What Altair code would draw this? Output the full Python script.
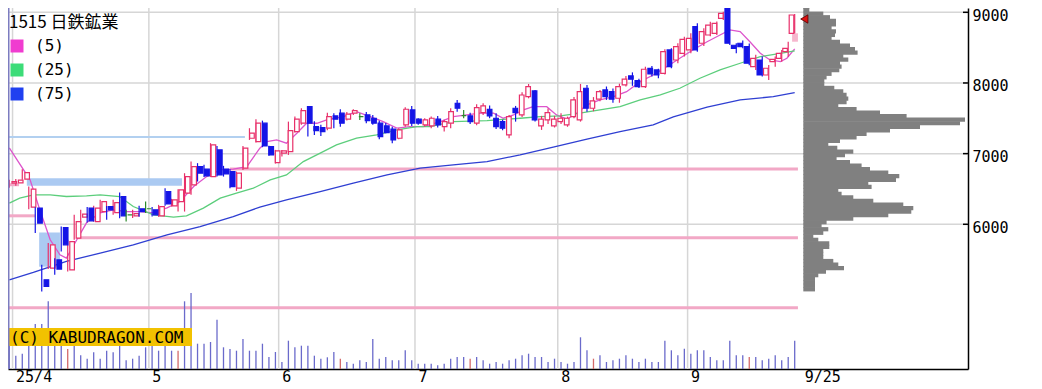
import altair as alt
import pandas as pd

# ---------------- data ----------------
TITLE = "1515 日鉄鉱業"
MA_NAMES = ["(5)", "(25)", "(75)"]
WATERMARK = "(C) KABUDRAGON.COM"

opens = [6582, 6585, 6638, 6243, 6229, 5215, 5380, 5497, 5954, 5356,
         5804, 6101, 6229, 6039, 6180, 6251, 6166, 6393, 6134, 6120,
         6219, 6220, 6205, 6120, 6463, 6261, 6322, 6441, 6558, 6817,
         6780, 6675, 7053, 6780, 6746, 6511, 6794, 7218, 7170, 7431,
         7100, 6873, 7006, 7029, 7312, 7431, 7665, 7382, 7368, 7360,
         7534, 7572, 7487, 7572, 7524, 7548, 7501, 7431, 7392, 7346,
         7218, 7406, 7618, 7487, 7406, 7392, 7487, 7382, 7431, 7713,
         7538, 7534, 7431, 7581, 7628, 7501, 7453, 7265, 7642, 7548,
         7807, 7887, 7392, 7477, 7392, 7453, 7406, 7524, 7477, 7925,
         7642, 7770, 7901, 7877, 7784, 7972, 8100, 8033, 7948, 8207,
         8184, 8137, 8467, 8325, 8420, 8467, 8797, 8562, 8679, 8703,
         8915, 9057, 8534, 8562, 8514, 8231, 8325, 8113, 8302, 8349,
         8443, 8703]
closes = [6605, 6625, 6732, 6497, 6016, 5120, 5710, 5366, 5710, 5756,
          6039, 6143, 6049, 6229, 6322, 6204, 6308, 6120, 6134, 6150,
          6180, 6220, 6134, 6251, 6289, 6346, 6487, 6675, 6817, 6723,
          6685, 7124, 6699, 6713, 6534, 6723, 7077, 7289, 7431, 7109,
          6982, 7039, 7039, 7326, 7487, 7609, 7431, 7326, 7312, 7524,
          7487, 7431, 7558, 7609, 7524, 7467, 7431, 7241, 7298, 7194,
          7336, 7628, 7431, 7431, 7477, 7501, 7406, 7453, 7594, 7642,
          7538, 7453, 7651, 7675, 7534, 7382, 7360, 7524, 7580, 7830,
          7948, 7477, 7487, 7580, 7487, 7501, 7501, 7760, 7877, 7642,
          7746, 7877, 7807, 7770, 7948, 8053, 8053, 7948, 8194, 8128,
          8113, 8443, 8231, 8514, 8618, 8632, 8467, 8726, 8820, 8844,
          8986, 8562, 8490, 8514, 8279, 8349, 8113, 8208, 8335, 8420,
          8490, 8962]
highs = [6629, 6640, 6780, 6534, 6240, 5427, 5734, 5521, 5968, 5780,
         6134, 6205, 6243, 6261, 6346, 6260, 6346, 6449, 6205, 6205,
         6261, 6322, 6243, 6275, 6511, 6360, 6497, 6723, 6887, 6865,
         6841, 7148, 7109, 6827, 6780, 6746, 7109, 7360, 7487, 7467,
         7110, 7053, 7053, 7453, 7524, 7642, 7675, 7460, 7410, 7580,
         7572, 7628, 7590, 7628, 7572, 7590, 7548, 7467, 7434, 7382,
         7360, 7657, 7675, 7501, 7501, 7524, 7534, 7480, 7642, 7760,
         7618, 7580, 7700, 7713, 7680, 7570, 7480, 7548, 7675, 7870,
         7986, 7900, 7534, 7640, 7534, 7570, 7524, 7800, 7986, 7970,
         7800, 7900, 7950, 7920, 7990, 8100, 8150, 8060, 8230, 8240,
         8200, 8477, 8490, 8563, 8655, 8703, 8845, 8774, 8867, 8870,
         9008, 9089, 8562, 8600, 8560, 8400, 8373, 8255, 8373, 8467,
         8584, 8976]
lows = [6516, 6545, 6629, 6214, 5875, 5049, 5366, 5285, 5615, 5332,
        5780, 6021, 6025, 6035, 6158, 6063, 6134, 6087, 6039, 6090,
        6106, 6158, 6110, 6106, 6261, 6251, 6180, 6180, 6417, 6605,
        6670, 6670, 6675, 6675, 6510, 6473, 6770, 7194, 7156, 7091,
        6970, 6860, 6958, 6982, 7300, 7410, 7241, 7265, 7251, 7330,
        7360, 7382, 7470, 7548, 7477, 7431, 7410, 7204, 7290, 7148,
        7204, 7380, 7392, 7410, 7380, 7360, 7370, 7312, 7360, 7594,
        7500, 7420, 7400, 7548, 7500, 7350, 7330, 7218, 7453, 7520,
        7783, 7453, 7336, 7420, 7370, 7420, 7380, 7500, 7453, 7594,
        7600, 7740, 7760, 7720, 7720, 7950, 7960, 7930, 7930, 8090,
        8067, 8120, 8208, 8280, 8373, 8420, 8443, 8524, 8660, 8680,
        8891, 8538, 8420, 8490, 8250, 8184, 8090, 8043, 8231, 8302,
        8372, 8703]
volumes = [28, 13.3, 15.3, 28, 45, 45, 67.7, 30, 32, 20,
           26, 13.7, 10.3, 16.7, 10.3, 18.3, 16.7, 25, 8.7, 10.3,
           13.3, 21.7, 24, 18.3, 26, 18.3, 18.3, 67.7, 76, 25.3,
           25.3, 27, 49.3, 21.7, 20, 18.3, 30, 18.3, 18.3, 25.3,
           12, 17, 7, 28.3, 21.7, 23.3, 23.3, 13.3, 10.3, 11.7,
           17, 10.3, 7, 5.3, 8.7, 7, 30, 10.3, 12, 8.7,
           8.7, 18.7, 8.7, 5.3, 5.3, 5.3, 3.7, 5.3, 10.3, 12,
           12, 10.3, 12, 8.7, 5.3, 7, 5.3, 8.7, 10.3, 13.7,
           15.3, 12, 12, 7, 10.3, 7, 5.3, 7, 31.7, 18.7,
           10.3, 13.7, 7, 8.7, 10.3, 13.7, 10.3, 7, 10.3, 7,
           7, 28.3, 18.7, 13.7, 20.3, 15.3, 18.7, 18.7, 12, 8.7,
           8.7, 28.3, 13.7, 13.7, 12, 12, 8.7, 10.3, 13.7, 8.7,
           12, 28.3]
vol_red_days = [9, 26, 51, 71, 90, 114]

ma5_idx = [0, 3.2, 4.7, 6.3, 7.8, 8.8, 10.4, 11.9, 14, 16, 18.1, 20.1, 22.1, 24.3, 26.3,
           28.4, 30.4, 32.5, 34.5, 36.6, 38.6, 39.7, 41.2, 42.7, 44.3, 45.8, 47.4, 48.9,
           51.5, 53.5, 55.6, 57.6, 59.7, 61.7, 63.8, 66.4, 68.4, 70.5, 72.5, 74.6, 76.1,
           77.7, 79.2, 80.7, 82.8, 84.3, 85.9, 87.4, 89, 91, 93.1, 95.1, 97.2, 99.2, 101.3,
           103.3, 105.3, 107.5, 109.5, 111, 112.6, 114.1, 115.7, 117.2, 118.8, 119.8, 121]
ma5_val = [7081, 6629, 6205, 5781, 5569, 5522, 5781, 6021, 6162, 6205, 6180, 6180, 6162, 6233, 6322,
           6534, 6675, 6770, 6780, 6817, 7077, 7170, 7194, 7148, 7289, 7430, 7430, 7477,
           7524, 7594, 7524, 7453, 7360, 7382, 7382, 7453, 7524, 7548, 7572, 7572, 7501,
           7548, 7618, 7665, 7665, 7548, 7487, 7572, 7689, 7760, 7807, 7877, 8019, 8113, 8231,
           8350, 8467, 8584, 8679, 8750, 8726, 8584, 8420, 8326, 8302, 8350, 8483]
ma25_idx = [0, 1.6, 3.7, 6.3, 8.8, 11.9, 14, 17, 19.1, 22.2, 25.3, 27.3, 29.9, 32.5, 35,
            37.6, 40.2, 42.7, 45.3, 47.9, 50.4, 53.5, 56.6, 59.7, 62.8, 64.8, 68.4, 73.6,
            76.6, 78.7, 81.8, 84.9, 87.9, 91, 94.1, 97.2, 100.3, 103.3, 106.4, 109.5,
            112.6, 115.7, 118.8, 121]
ma25_val = [6299, 6370, 6417, 6417, 6393, 6402, 6417, 6393, 6251, 6134, 6101, 6120, 6229, 6370, 6441,
            6511, 6629, 6699, 6887, 7006, 7124, 7218, 7265, 7336, 7382, 7382, 7453, 7467,
            7487, 7501, 7524, 7534, 7572, 7619, 7665, 7760, 7831, 7925, 8067, 8184,
            8279, 8372, 8420, 8453]
ma75_idx = [0, 3.7, 8.8, 14, 19.1, 24.3, 29.4, 34.5, 38.6, 42.7, 47.9, 53, 58.2, 63.3,
            68.4, 73.6, 78.7, 83.8, 89, 94.1, 99.2, 102.3, 107.5, 112.6, 117.7, 121]
ma75_val = [5215, 5318, 5474, 5592, 5710, 5851, 5968, 6110, 6243, 6346, 6463, 6582, 6699, 6794,
            6841, 6887, 6982, 7091, 7204, 7312, 7406, 7520, 7657, 7760, 7807, 7863]

# horizontal reference lines
hl_price = [7237, 6784, 6120, 6560, 5809, 4819]
hl_start = [-0.2, 34, -0.2, -0.2, 10.4, -0.2]
hl_end = [36.3, 121.5, 4, 1.5, 121.5, 121.5]
hl_kind = ["blue", "pink", "pink", "pink", "pink", "pink"]

# gap windows
gap_lo = [6544, 5400, 8584]
gap_hi = [6653, 5884, 8703]
gap_start = [2.7, 4.6, 120.6]
gap_end = [26.6, 7.8, 121.5]
gap_kind = ["down", "down", "up"]

# volume-by-price profile (bin low price, width)
prof_lo = [9050, 9000, 8950, 8900, 8850, 8800, 8750, 8700, 8650, 8600,
           8550, 8500, 8450, 8400, 8350, 8300, 8250, 8200, 8150, 8100,
           8050, 8000, 7950, 7900, 7850, 7800, 7750, 7700, 7650, 7600,
           7550, 7500, 7450, 7400, 7350, 7300, 7250, 7200, 7150, 7100,
           7050, 7000, 6950, 6900, 6850, 6800, 6750, 6700, 6650, 6600,
           6550, 6500, 6450, 6400, 6350, 6300, 6250, 6200, 6150, 6100,
           6050, 6000, 5950, 5900, 5850, 5800, 5750, 5700, 5650, 5600,
           5550, 5500, 5450, 5400, 5350, 5300, 5250, 5200, 5150, 5100,
           5050]
prof_w = [6, 6, 20, 26.7, 32.7, 32.7, 28.3, 32.7, 31.7, 28.3,
          36.7, 46.7, 51.7, 54.3, 40, 45, 36.7, 38.3, 36, 28.3,
          23.3, 21, 21, 31, 40, 43.3, 45, 43.3, 35, 53.3,
          76.7, 103.3, 161.7, 156.7, 116.7, 86.7, 63.3, 53.3, 36.7, 25,
          34, 50, 41.7, 33.3, 46.7, 58.3, 66.7, 85, 96, 92.7,
          65, 68.3, 35, 38.3, 50, 70, 100, 110, 108, 85,
          50, 23.3, 18.3, 25, 20, 10, 15, 26, 26, 20,
          20, 20, 30, 35, 40.7, 22.7, 15, 11.7, 11.7, 11.7,
          11.7]
marker_price = 8905

tick_pos = [0.5, 21.5, 41.5, 62.5, 84.5, 104.5, 122]
tick_lab = ["25/4", "5", "6", "7", "8", "9", "9/25"]
grid_pos = [0.5, 21.5, 41.5, 62.5, 84.5, 104.5]
price_ticks = [6000, 7000, 8000, 9000]

# ---------------- styles ----------------
W, H = 960, 361
X_DOM = [-0.2, 147.7]
Y_DOM = [3952, 9061]
V_DOM = [0, 361]
P_DOM = [0, 165]
P_RANGE = [795.3, 960.3]
BIN = 50
BIN_OVERLAP = 10
RED, BLUE, GREEN = "#e8306a", "#1414e6", "#2b8a2b"
MA_LINE_COLORS = ["#dd55cc", "#5cce7c", "#2f3fd2"]
MA_KEY_COLORS = ["#f03cd0", "#3cdc78", "#2040f0"]
GRID = "#d6d6d6"
MONO = "DejaVu Sans Mono"

XS = alt.Scale(domain=X_DOM, nice=False, zero=False)
YS = alt.Scale(domain=Y_DOM, nice=False, zero=False)


def X(f, **kw):
    return alt.X(f, type="quantitative", scale=XS, axis=kw.pop("axis", None), **kw)


def Y(f, **kw):
    return alt.Y(f, type="quantitative", scale=YS, axis=kw.pop("axis", None), **kw)


n = len(opens)
candles = pd.DataFrame({"i": list(range(n)), "o": opens, "h": highs, "l": lows, "c": closes})
candles["dir"] = ["up" if c > o else ("down" if c < o else "flat") for o, c in zip(opens, closes)]
vol_df = pd.DataFrame({"i": list(range(n)), "v": volumes,
                       "red": [k in vol_red_days for k in range(n)]})
ma_df = pd.concat([
    pd.DataFrame({"i": ma5_idx, "val": ma5_val, "ma": MA_NAMES[0]}),
    pd.DataFrame({"i": ma25_idx, "val": ma25_val, "ma": MA_NAMES[1]}),
    pd.DataFrame({"i": ma75_idx, "val": ma75_val, "ma": MA_NAMES[2]}),
])
hl_df = pd.DataFrame({"p": hl_price, "s": hl_start, "e": hl_end, "k": hl_kind})
gap_df = pd.DataFrame({"lo": gap_lo, "hi": gap_hi, "s": gap_start, "e": gap_end, "k": gap_kind})
prof_df = pd.DataFrame({"plo": prof_lo, "pw": prof_w})
tick_df = pd.DataFrame({"p": price_ticks})
grid_df = pd.DataFrame({"g": grid_pos})

label_expr = "".join(f"datum.value == {p} ? '{l}' : " for p, l in zip(tick_pos, tick_lab)) + "''"

# ---------------- layers ----------------
vgrid = alt.Chart(grid_df).mark_rule(color=GRID, strokeWidth=1.5).encode(x=X("g"))

hgrid = alt.Chart(tick_df).mark_rule(color=GRID, strokeWidth=1.5).encode(
    y=Y("p", axis=alt.Axis(orient="right", values=price_ticks, format="d", title=None,
                           labelFont=MONO, labelFontSize=15, labelColor="black",
                           labelPadding=4, labelOffset=3, ticks=False, tickSize=0, grid=False,
                           domain=True, domainColor="black", domainWidth=1.5,
                           labelFlush=False, labelOverlap=False)))

PS = alt.Scale(domain=P_DOM, range=P_RANGE, nice=False, zero=False)
# short inward tick marks on the price axis
inner_ticks = alt.Chart(tick_df).transform_calculate(t0="159.7", t1="165").mark_rule(
    color="black", strokeWidth=1.5).encode(
    x=alt.X("t0:Q", scale=PS, axis=None), x2="t1:Q", y=Y("p"))

gaps_down = alt.Chart(gap_df).transform_filter(alt.datum.k == "down").mark_rect(
    color="#abcaf2").encode(x=X("s"), x2="e", y=Y("lo"), y2="hi")
gaps_up = alt.Chart(gap_df).transform_filter(alt.datum.k == "up").mark_rect(
    color="#f6b6cd").encode(x=X("s"), x2="e", y=Y("lo"), y2="hi")

hl_blue = alt.Chart(hl_df).transform_filter(alt.datum.k == "blue").mark_rule(
    color="#b2d0f0", strokeWidth=2).encode(x=X("s"), x2="e", y=Y("p"))
hl_pink = alt.Chart(hl_df).transform_filter(alt.datum.k == "pink").mark_rule(
    color="#f2a8c6", strokeWidth=3).encode(x=X("s"), x2="e", y=Y("p"))

VS = alt.Scale(domain=V_DOM, nice=False, zero=True)
vol_blue = alt.Chart(vol_df).transform_filter(alt.datum.red == False).mark_rule(
    color="#6a6acb", strokeWidth=1.3).encode(
    x=X("i", axis=alt.Axis(orient="bottom", values=tick_pos, labelExpr=label_expr,
                           labelAlign="left", labelOffset=3, labelPadding=0,
                           labelFont=MONO, labelFontSize=15, labelColor="black",
                           ticks=False, tickSize=0, grid=False, domain=True,
                           domainColor="black", domainWidth=1.5, title=None,
                           labelFlush=False, labelOverlap=False)),
    y=alt.Y("v:Q", scale=VS, axis=None), y2=alt.datum(0))
vol_red = alt.Chart(vol_df).transform_filter(alt.datum.red == True).mark_rule(
    color="#d46a6a", strokeWidth=1.3).encode(
    x=X("i"), y=alt.Y("v:Q", scale=VS, axis=None), y2=alt.datum(0))

wm_df = pd.DataFrame({"t": [WATERMARK]})
wm_box = alt.Chart(wm_df).mark_rect(color="#f2c200").encode(
    x=alt.value(0), x2=alt.value(184), y=alt.value(320), y2=alt.value(338))
wm_text = alt.Chart(wm_df).mark_text(align="left", baseline="middle", font=MONO,
                                     fontSize=16, color="black").encode(
    x=alt.value(2), y=alt.value(329.5), text="t:N")

profile = alt.Chart(prof_df).transform_calculate(
    p0="0", phi=f"datum.plo + {BIN + BIN_OVERLAP}").mark_rect(
    color="#808080").encode(
    x=alt.X("p0:Q", scale=PS, axis=None), x2="pw:Q", y=Y("plo"), y2="phi:Q")

ma_lines = alt.Chart(ma_df).mark_line(strokeWidth=1.3).encode(
    x=X("i"), y=Y("val"),
    stroke=alt.Stroke("ma:N", scale=alt.Scale(domain=MA_NAMES, range=MA_LINE_COLORS), legend=None))

candle_layers = []
for d, fill, stroke in [("up", "white", RED), ("down", BLUE, BLUE), ("flat", GREEN, GREEN)]:
    base = alt.Chart(candles).transform_filter(alt.datum.dir == d)
    candle_layers.append(base.mark_rule(color=stroke, strokeWidth=1.2).encode(
        x=X("i"), y=Y("l"), y2="h"))
    candle_layers.append(base.mark_bar(size=4.6, fill=fill, stroke=stroke, strokeWidth=1.2).encode(
        x=X("i"), y=Y("o"), y2="c"))

arrow = alt.Chart(pd.DataFrame({"p": [marker_price]})).mark_point(
    shape="triangle-left", filled=True, fill="#dd1111", stroke="#550000", strokeWidth=0.8,
    size=70, opacity=1).encode(x=alt.X("p0:Q", scale=PS, axis=None), y=Y("p")).transform_calculate(p0="1")

key_df = pd.DataFrame({"ma": MA_NAMES, "kx": [-60, -60, -60], "ky": [5000, 5000, 5000]})
legend_key = alt.Chart(key_df).mark_square(size=169, filled=True, opacity=1, clip=True).encode(
    x=X("kx"), y=Y("ky"),
    fill=alt.Fill("ma:N", scale=alt.Scale(domain=MA_NAMES, range=MA_KEY_COLORS),
                  legend=alt.Legend(title=TITLE, orient="none", legendX=1, legendY=7,
                                    symbolType="square", symbolSize=169, symbolStrokeWidth=0,
                                    titleFont="Noto Sans CJK JP", titleFontSize=17,
                                    titleFontWeight="normal", titleColor="black",
                                    labelFont=MONO, labelFontSize=16, labelColor="black",
                                    titlePadding=6, rowPadding=8, labelOffset=10,
                                    padding=0, titleLimit=400)))

border = alt.Chart(pd.DataFrame({"b": [0]})).mark_rule(color="#7c7cc0", strokeWidth=1.5).encode(
    x=alt.value(0.75))

chart = alt.layer(
    vgrid, hgrid, gaps_down, gaps_up, hl_blue, hl_pink,
    vol_blue, vol_red, wm_box, wm_text, profile, inner_ticks, ma_lines,
    *candle_layers, arrow, legend_key, border
).resolve_scale(
    x="independent", y="independent", stroke="independent", fill="independent",
    color="independent"
).properties(
    width=W, height=H, background="white",
    autosize=alt.AutoSizeParams(type="none"),
    padding={"left": 0, "top": 0, "right": 66, "bottom": 20},
).configure_view(stroke=None)

chart.save("out.html", embed_options={"renderer": "svg", "actions": False})
